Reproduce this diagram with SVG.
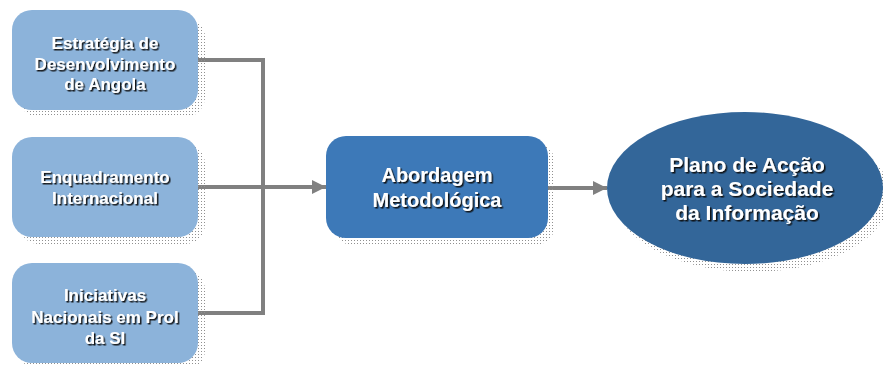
<svg xmlns="http://www.w3.org/2000/svg" width="884" height="366" viewBox="0 0 884 366">
<defs>
<pattern id="dots" width="3" height="3" patternUnits="userSpaceOnUse">
<rect x="0" y="0" width="1" height="1" fill="#909090"/>
</pattern>
<filter id="ts" x="-10%" y="-20%" width="120%" height="150%">
<feDropShadow dx="1.5" dy="1.5" stdDeviation="0.3" flood-color="#111111" flood-opacity="0.95"/>
</filter>
<marker id="ah" viewBox="0 0 14 14" refX="14" refY="7" markerWidth="14" markerHeight="14" markerUnits="userSpaceOnUse" orient="auto">
<path d="M0,0 L14,7 L0,14 Z" fill="#808080"/>
</marker>
<style>
.side{fill:#8cb3da}
.mid{fill:#3d79b8}
.ell{fill:#336699}
.shadow{fill:url(#dots)}
.t{font-family:"Liberation Sans",Arial,sans-serif;font-weight:bold;fill:#ffffff;text-anchor:middle;filter:url(#ts)}
.s17{font-size:17px}
.s20{font-size:20px}
.s21{font-size:21px}
.con{fill:none;stroke:#808080;stroke-width:4}
</style>
</defs>
<g id="connectors">
<polyline class="con" points="198,60 263,60 263,313 198,313"/>
<line class="con" x1="198" y1="187" x2="326" y2="187" marker-end="url(#ah)"/>
<line class="con" x1="548" y1="188" x2="607" y2="188" marker-end="url(#ah)"/>
</g>
<g id="node-estrategia">
<rect class="shadow" x="19" y="17" width="186" height="100" rx="20"/>
<rect class="side" x="12" y="10" width="186" height="100" rx="20"/>
<text class="t s17" x="105" y="49">Estratégia de</text>
<text class="t s17" x="105" y="69.5">Desenvolvimento</text>
<text class="t s17" x="105" y="90">de Angola</text>
</g>
<g id="node-enquadramento">
<rect class="shadow" x="19" y="144" width="186" height="100" rx="20"/>
<rect class="side" x="12" y="137" width="186" height="100" rx="20"/>
<text class="t s17" x="105" y="183">Enquadramento</text>
<text class="t s17" x="105" y="204">Internacional</text>
</g>
<g id="node-iniciativas">
<rect class="shadow" x="19" y="270" width="186" height="100" rx="20"/>
<rect class="side" x="12" y="263" width="186" height="100" rx="20"/>
<text class="t s17" x="105" y="301">Iniciativas</text>
<text class="t s17" x="105" y="323">Nacionais em Prol</text>
<text class="t s17" x="105" y="344">da SI</text>
</g>
<g id="node-abordagem">
<rect class="shadow" x="333" y="143" width="222" height="102" rx="20"/>
<rect class="mid" x="326" y="136" width="222" height="102" rx="20"/>
<text class="t s20" x="437" y="182">Abordagem</text>
<text class="t s20" x="437" y="207">Metodológica</text>
</g>
<g id="node-plano">
<ellipse class="shadow" cx="752" cy="196" rx="138" ry="76"/>
<ellipse class="ell" cx="745" cy="188" rx="138" ry="76"/>
<text class="t s21" x="747" y="172">Plano de Acção</text>
<text class="t s21" x="747" y="196">para a Sociedade</text>
<text class="t s21" x="747" y="220">da Informação</text>
</g>
</svg>
